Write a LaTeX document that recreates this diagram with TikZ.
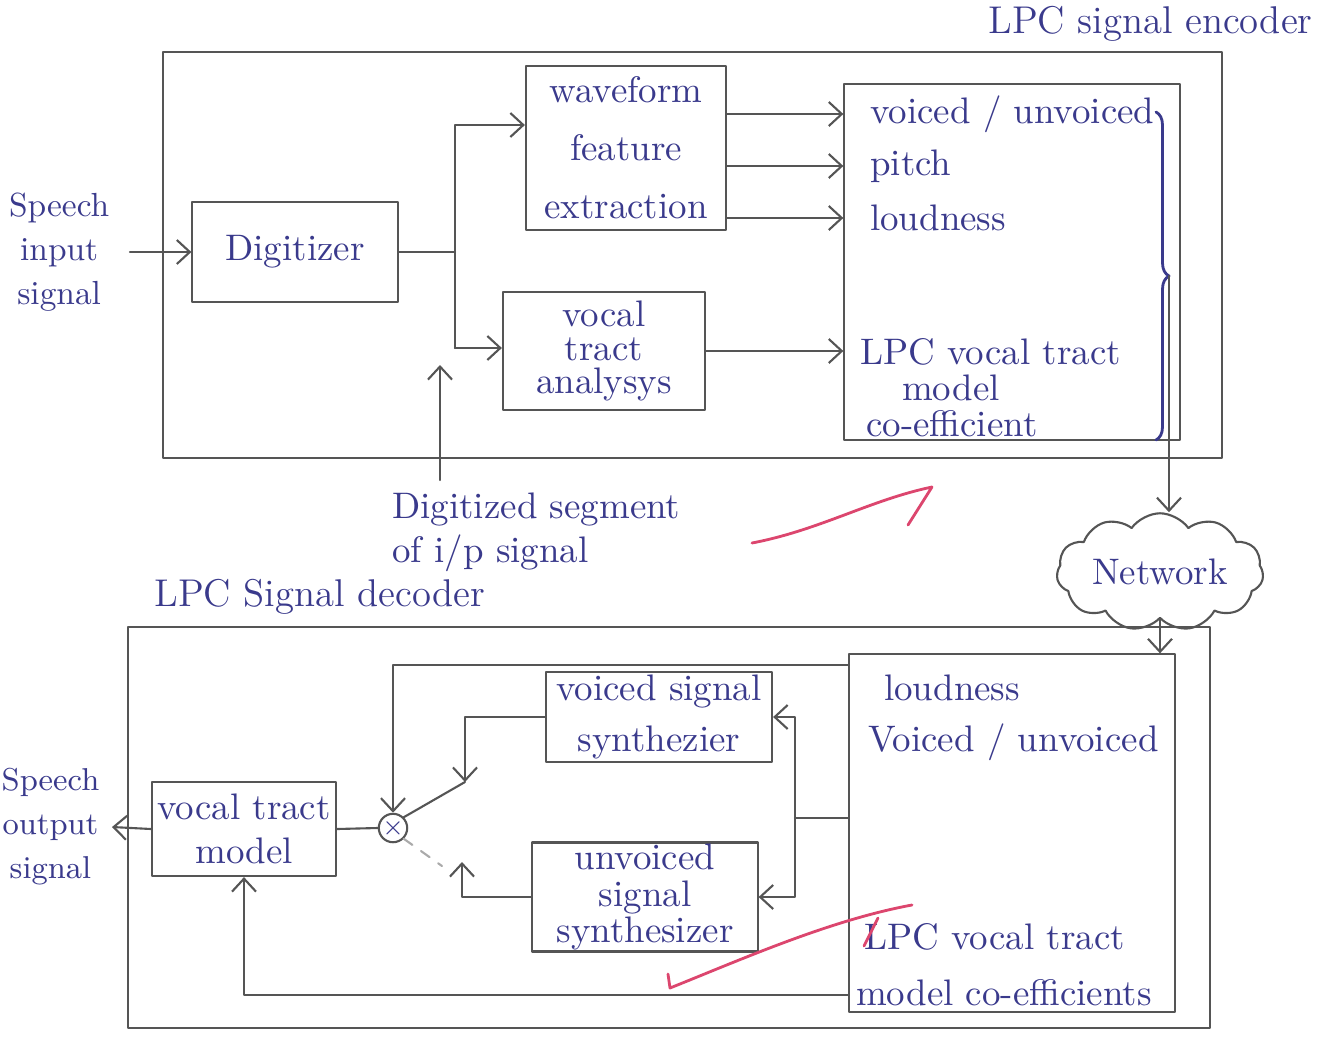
\documentclass[tikz,border=0pt]{standalone}
\usetikzlibrary{arrows.meta,positioning,shapes.symbols,decorations.pathreplacing}
\definecolor{ink}{RGB}{58,58,140}
\definecolor{pencil}{RGB}{85,85,85}
\definecolor{redpen}{RGB}{220,70,110}
\begin{document}
\begin{tikzpicture}[x=0.01cm, y=-0.01cm, line join=round, line cap=round, >={Straight Barb[length=1.3mm,width=2.4mm]},
	every node/.style={text=ink, font=\fontsize{10.5}{12.5}\selectfont},
	blockbox/.style={draw=pencil, line width=0.6pt, align=center, inner sep=0pt},
	wire/.style={draw=pencil, line width=0.6pt},
	txt/.style={anchor=west, inner sep=1pt},
	redmark/.style={draw=redpen, line width=0.8pt}]
	\useasboundingbox (0,0) rectangle (1333,1042);
	
	% encoder
	\draw[wire] (163,52) rectangle (1222,458);
	\node[anchor=south east, font=\fontsize{11}{13}\selectfont] (enclbl) at (1325,54) {LPC signal encoder};
	
	\node[align=center, anchor=east, inner xsep=2mm, font=\fontsize{9.5}{12.5}\selectfont] (inlbl) at (130,252) {Speech\\input\\signal};
	\node[blockbox, minimum width=2.05cm, minimum height=1cm] (dig) at (295,252) {Digitizer};
	\node[blockbox, minimum width=2cm, minimum height=1.64cm] (wave) at (626,148) {waveform\\[4pt]feature\\[4pt]extraction};
	\node[blockbox, minimum width=2.02cm, minimum height=1.18cm] (tract) at (604,351) {vocal\\[-3pt]tract\\[-3pt]analysys};
	
	\node[blockbox, minimum width=3.35cm, minimum height=3.55cm] (ebig) at (1012,262) {};
	\node[txt] (vu) at (866,114) {voiced / unvoiced};
	\node[txt] (pitch) at (866,166) {pitch};
	\node[txt] (loud) at (866,218) {loudness};
	\node[txt] (lpc) at (856,352) {LPC vocal tract};
	\node[txt] (lpcm) at (898,388) {model};
	\node[txt] (lpcc) at (862,424) {co-efficient};
	
	\coordinate (jt) at (455,125);
	\coordinate (jb) at (455,348);
	\draw[wire,->] (inlbl.east) -- (dig.west);
	\draw[wire] (dig.east) -- (dig.east -| jb);
	\draw[wire,->] (jb) -- (jt) -- (wave.west |- jt);
	\draw[wire,->] (jb) -- (tract.west |- jb);
	
	\draw[wire,->] (wave.east |- vu) -- (ebig.west |- vu);
	\draw[wire,->] (wave.east |- pitch) -- (ebig.west |- pitch);
	\draw[wire,->] (wave.east |- loud) -- (ebig.west |- loud);
	\draw[wire,->] (tract.east) -- (ebig.west |- tract.east);
	
	\node[anchor=north west, align=left] (seg) at (380,480) {Digitized segment\\[0pt]of i/p signal};
	\coordinate (segtip) at (440,365);
	\draw[wire,->] (segtip |- seg.north) -- (segtip);
	
	\draw[ink, line width=0.8pt, decorate, decoration={brace, amplitude=1.3mm}] (1156,112) -- (1156,440);
	\coordinate (btip) at (1169,276);
	
	% network
	\node[cloud, draw=pencil, line width=0.6pt, cloud puffs=11, cloud puff arc=110, aspect=2.2, minimum width=2.05cm, minimum height=0.92cm, inner sep=1pt] (net) at (1160,572) {Network};
	\draw[wire,->] (btip) -- (btip |- net.north);
	
	% decoder
	\draw[wire] (128,627) rectangle (1210,1028);
	\node[anchor=south west, font=\fontsize{11}{13}\selectfont] (declbl) at (142,627) {LPC Signal decoder};
	
	\node[blockbox, minimum width=3.25cm, minimum height=3.57cm] (dbig) at (1012,833) {};
	\node[txt] (dloud) at (880,688) {loudness};
	\node[txt] (dvu) at (864,742) {Voiced / unvoiced};
	\node[txt] (dlpc) at (860,937) {LPC vocal tract};
	\node[txt] (dcoef) at (852,993) {model co-efficients};
	
	\node[blockbox, minimum width=2.26cm, minimum height=0.9cm] (vs) at (659,717) {voiced signal\\[2pt]synthezier};
	\node[blockbox, minimum width=2.25cm, minimum height=1.09cm] (us) at (645,897) {unvoiced\\[-2pt]signal\\[-2pt]synthesizer};
	\node[blockbox, minimum width=1.84cm, minimum height=0.94cm] (vtm) at (244,829) {vocal tract\\model};
	\node[draw=pencil, line width=0.6pt, circle, minimum size=0.28cm, inner sep=0pt, font=\scriptsize] (mul) at (393,828) {$\times$};
	\node[align=center, anchor=east, inner xsep=1.2mm, font=\fontsize{9}{12.5}\selectfont] (outlbl) at (112,827) {Speech\\output\\signal};
	
	\draw[wire,->] (net.south) -- (net.south |- dbig.north);
	
	\coordinate (gain) at (393,665);
	\draw[wire,->] (dbig.west |- gain) -- (gain) -- (mul.north);
	\coordinate (vsel) at (795,818);
	\draw[wire] (dbig.west |- vsel) -- (vsel);
	\draw[wire,->] (vsel) |- (vs.east);
	\draw[wire,->] (vsel) |- (us.east);
	
	\coordinate (sw1) at (465,782);
	\draw[wire,->] (vs.west) -| (sw1);
	\draw[wire] (mul.north east) -- (sw1);
	\coordinate (sw2) at (462,862);
	\draw[wire,->] (us.west) -| (sw2);
	\coordinate (arm2) at (442,866);
	\draw[wire, dashed, draw=pencil!50] (mul.south east) -- (arm2);
	
	\draw[wire] (mul.west) -- (vtm.east);
	\draw[wire,->] (vtm.west) -- (outlbl.east);
	\coordinate (lpbot) at (850,995);
	\draw[wire,->] (dbig.west |- lpbot) -| (vtm.south);
	
	% red pen
	\draw[redmark] (752,543) .. controls (820,530) and (870,500) .. (932,487) -- (908,525);
	\draw[redmark] (668,974) -- (670,988) .. controls (740,960) and (830,920) .. (912,905);
	\draw[redmark] (864,946) -- (878,918);
\end{tikzpicture}
\end{document}
